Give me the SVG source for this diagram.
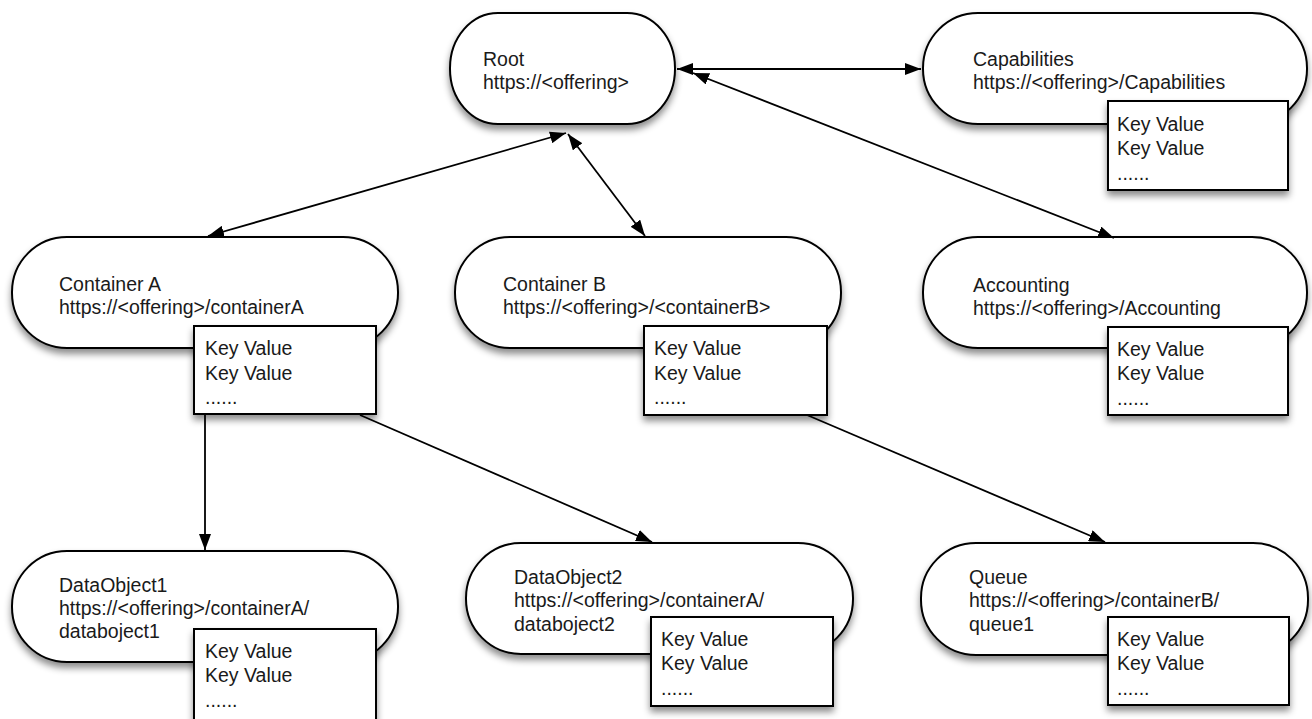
<svg xmlns="http://www.w3.org/2000/svg" width="1312" height="719" viewBox="0 0 1312 719">
<defs>
<filter id="sh" x="-10%" y="-10%" width="125%" height="140%">
<feDropShadow dx="0" dy="5" stdDeviation="3.5" flood-color="#000" flood-opacity="0.45"/>
</filter>
<marker id="ah" viewBox="0 0 16 12" refX="16" refY="6" markerWidth="16" markerHeight="12" markerUnits="userSpaceOnUse" orient="auto-start-reverse">
<path d="M0,0 L16,6 L0,12 z" fill="#000"/>
</marker>
</defs>
<style>
text{font-family:"Liberation Sans",Arial,Helvetica,sans-serif;font-size:19.5px;fill:#1a1a1a}
.pill{fill:#fff;stroke:#000;stroke-width:2;filter:url(#sh)}
.kv{fill:#fff;stroke:#000;stroke-width:2;filter:url(#sh)}
.c{stroke:#000;stroke-width:1.8;fill:none}
</style>
<rect width="1312" height="719" fill="#fff"/>

<g id="root">
<rect class="pill" x="450" y="13" width="225" height="111" rx="48" ry="55"/>
<text x="483" y="66">Root</text>
<text x="483" y="89">https://&lt;offering&gt;</text>
</g>

<g id="capabilities">
<rect class="pill" x="923" y="13" width="384" height="111" rx="55" ry="55"/>
<text x="973" y="66">Capabilities</text>
<text x="973" y="89">https://&lt;offering&gt;/Capabilities</text>
<rect class="kv" x="1108" y="101" width="180" height="89"/>
<text x="1117" y="131">Key Value</text>
<text x="1117" y="155">Key Value</text>
<text x="1117" y="180">......</text>
</g>

<g id="containerA">
<rect class="pill" x="12" y="237" width="386" height="111" rx="55" ry="55"/>
<text x="59" y="291">Container A</text>
<text x="59" y="314">https://&lt;offering&gt;/containerA</text>
<rect class="kv" x="194" y="326" width="182" height="88"/>
<text x="205" y="355">Key Value</text>
<text x="205" y="380">Key Value</text>
<text x="205" y="404">......</text>
</g>

<g id="containerB">
<rect class="pill" x="455" y="237" width="386" height="111" rx="55" ry="55"/>
<text x="503" y="291">Container B</text>
<text x="503" y="314">https://&lt;offering&gt;/&lt;containerB&gt;</text>
<rect class="kv" x="644" y="326" width="183" height="89"/>
<text x="654" y="355">Key Value</text>
<text x="654" y="380">Key Value</text>
<text x="654" y="404">......</text>
</g>

<g id="accounting">
<rect class="pill" x="923" y="237" width="384" height="111" rx="55" ry="55"/>
<text x="973" y="292">Accounting</text>
<text x="973" y="315">https://&lt;offering&gt;/Accounting</text>
<rect class="kv" x="1108" y="327" width="180" height="88"/>
<text x="1117" y="356">Key Value</text>
<text x="1117" y="380">Key Value</text>
<text x="1117" y="405">......</text>
</g>

<g id="dataobject1">
<rect class="pill" x="12" y="551" width="386" height="111" rx="55" ry="55"/>
<text x="59" y="592">DataObject1</text>
<text x="59" y="615">https://&lt;offering&gt;/containerA/</text>
<text x="59" y="638">databoject1</text>
<rect class="kv" x="194" y="629" width="182" height="92"/>
<text x="205" y="658">Key Value</text>
<text x="205" y="682">Key Value</text>
<text x="205" y="707">......</text>
</g>

<g id="dataobject2">
<rect class="pill" x="466" y="543" width="387" height="111" rx="55" ry="55"/>
<text x="514" y="584">DataObject2</text>
<text x="514" y="607">https://&lt;offering&gt;/containerA/</text>
<text x="514" y="631">databoject2</text>
<rect class="kv" x="651" y="617" width="182" height="89"/>
<text x="661" y="646">Key Value</text>
<text x="661" y="670">Key Value</text>
<text x="661" y="695">......</text>
</g>

<g id="queue">
<rect class="pill" x="921" y="543" width="387" height="112" rx="55" ry="55"/>
<text x="969" y="584">Queue</text>
<text x="969" y="607">https://&lt;offering&gt;/containerB/</text>
<text x="969" y="631">queue1</text>
<rect class="kv" x="1108" y="617" width="181" height="88"/>
<text x="1117" y="646">Key Value</text>
<text x="1117" y="670">Key Value</text>
<text x="1117" y="695">......</text>
</g>

<g id="connectors">
<line class="c" x1="677" y1="69" x2="921" y2="69" marker-start="url(#ah)" marker-end="url(#ah)"/>
<line class="c" x1="693" y1="73" x2="1114" y2="238" marker-start="url(#ah)" marker-end="url(#ah)"/>
<line class="c" x1="566" y1="133" x2="208" y2="236" marker-start="url(#ah)" marker-end="url(#ah)"/>
<line class="c" x1="568" y1="134" x2="645" y2="236" marker-start="url(#ah)" marker-end="url(#ah)"/>
<line class="c" x1="205" y1="414" x2="205" y2="550" marker-end="url(#ah)"/>
<line class="c" x1="360" y1="415" x2="652" y2="542" marker-end="url(#ah)"/>
<line class="c" x1="807" y1="415" x2="1105" y2="542" marker-end="url(#ah)"/>
</g>
</svg>
